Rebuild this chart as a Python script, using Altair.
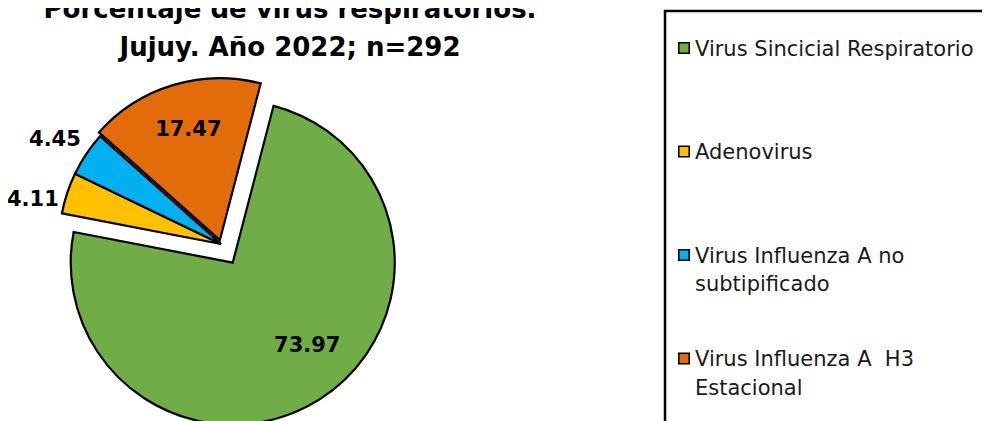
import math
import altair as alt
import pandas as pd

# ---------------- data ----------------
categories = [
    "Virus Sincicial Respiratorio",
    "Adenovirus",
    "Virus Influenza A no subtipificado",
    "Virus Influenza A  H3 Estacional",
]
values = [73.97, 4.11, 4.45, 17.47]
value_labels = ["73.97", "4.11", "4.45", "17.47"]
legend_labels = [
    "Virus Sincicial Respiratorio",
    "Adenovirus",
    "Virus Influenza A no\nsubtipificado",
    "Virus Influenza A \u00a0H3\nEstacional",
]
colors = ["#70AD47", "#FFC000", "#00B0F0", "#E36C0A"]
title_lines = ["Porcentaje de virus respiratorios.", "Jujuy. Año 2022; n=292"]

# ---------------- style ----------------
W, H = 974, 413
CX, CY = 213, 236          # pie centre (px in plot area)
R = 162                    # pie radius
START = math.radians(14.6) # start angle of first slice (clockwise from 12 o'clock)
EXPLODE = {categories[0]: 22, categories[1]: 0, categories[2]: 0, categories[3]: 4}
LABEL_NUDGE = {categories[0]: (11, -17), categories[1]: (-2, 18), categories[2]: (-3, 5),
               categories[3]: (3, 4)}
FONT = "DejaVu Sans"

df = pd.DataFrame({
    "idx": list(range(len(categories))),
    "cat": categories,
    "pct": values,
    "label": value_labels,
})
df["explode"] = df["cat"].map(EXPLODE)

base = (
    alt.Chart(df)
    .transform_joinaggregate(total="sum(pct)")
    .transform_window(cum="sum(pct)", sort=[alt.SortField("idx")], frame=[None, 0])
    .transform_calculate(
        t0=f"{START} + 2*PI*(datum.cum - datum.pct)/datum.total",
        t1=f"{START} + 2*PI*datum.cum/datum.total",
    )
    .transform_calculate(mid="(datum.t0 + datum.t1)/2")
    .transform_calculate(
        cx=f"{CX} + datum.explode*sin(datum.mid)",
        cy=f"{CY} - datum.explode*cos(datum.mid)",
        lr="datum.pct > 10 ? 119 : 196",
    )
    .transform_calculate(
        lx="datum.cx + datum.lr*sin(datum.mid)",
        ly="datum.cy - datum.lr*cos(datum.mid)",
    )
)

arcs = base.mark_arc(radius=R, stroke="black", strokeWidth=2.2).encode(
    theta=alt.Theta("t0:Q", scale=None),
    theta2="t1:Q",
    x=alt.X("cx:Q", scale=None),
    y=alt.Y("cy:Q", scale=None),
    color=alt.Color("cat:N", scale=alt.Scale(domain=categories, range=colors), legend=None),
    order=alt.Order("idx:Q"),
)

label_layers = []
for c in categories:
    dx, dy = LABEL_NUDGE.get(c, (0, 0))
    label_layers.append(
        base.transform_filter(alt.datum.cat == c)
        .mark_text(font=FONT, fontSize=21, fontWeight="bold", align="center",
                   baseline="middle", color="black", dx=dx, dy=dy)
        .encode(x=alt.X("lx:Q", scale=None), y=alt.Y("ly:Q", scale=None), text="label:N")
    )

# ---------------- legend (drawn manually) ----------------
leg = pd.DataFrame({"idx": list(range(len(categories))), "cat": categories, "txt": legend_labels})
leg_base = alt.Chart(leg).transform_calculate(ry="40 + datum.idx*103.5")

frame = alt.Chart(pd.DataFrame({"a": [0]})).mark_rect(
    fill=None, stroke="black", strokeWidth=2.5
).encode(x=alt.value(657), x2=alt.value(1400), y=alt.value(3), y2=alt.value(1400))

leg_sym = leg_base.mark_square(size=110, stroke="black", strokeWidth=1.6, opacity=1).encode(
    x=alt.value(676),
    y=alt.Y("ry:Q", scale=None),
    fill=alt.Fill("cat:N", scale=alt.Scale(domain=categories, range=colors), legend=None),
)
leg_txt = leg_base.transform_calculate(ty="datum.ry + 7.5").mark_text(
    font=FONT, fontSize=21, align="left", baseline="alphabetic", lineBreak="\n",
    lineHeight=28.5, color="#1a1a1a"
).encode(x=alt.value(687), y=alt.Y("ty:Q", scale=None), text="txt:N")

# ---------------- title ----------------
tdf = pd.DataFrame({"i": [0, 1], "t": title_lines})
title = alt.Chart(tdf).transform_calculate(ty="10 + datum.i*38").mark_text(
    font=FONT, fontSize=26, fontWeight="bold", align="center", baseline="alphabetic", color="black"
).encode(x=alt.value(282), y=alt.Y("ty:Q", scale=None), text="t:N")

chart = (
    alt.layer(frame, arcs, *label_layers, leg_sym, leg_txt, title)
    .properties(width=W, height=H, autosize=alt.AutoSizeParams(type="none"), padding=0,
                background="white")
    .configure_view(stroke=None)
)

chart.save("out.html", embed_options={"renderer": "svg", "actions": False})
